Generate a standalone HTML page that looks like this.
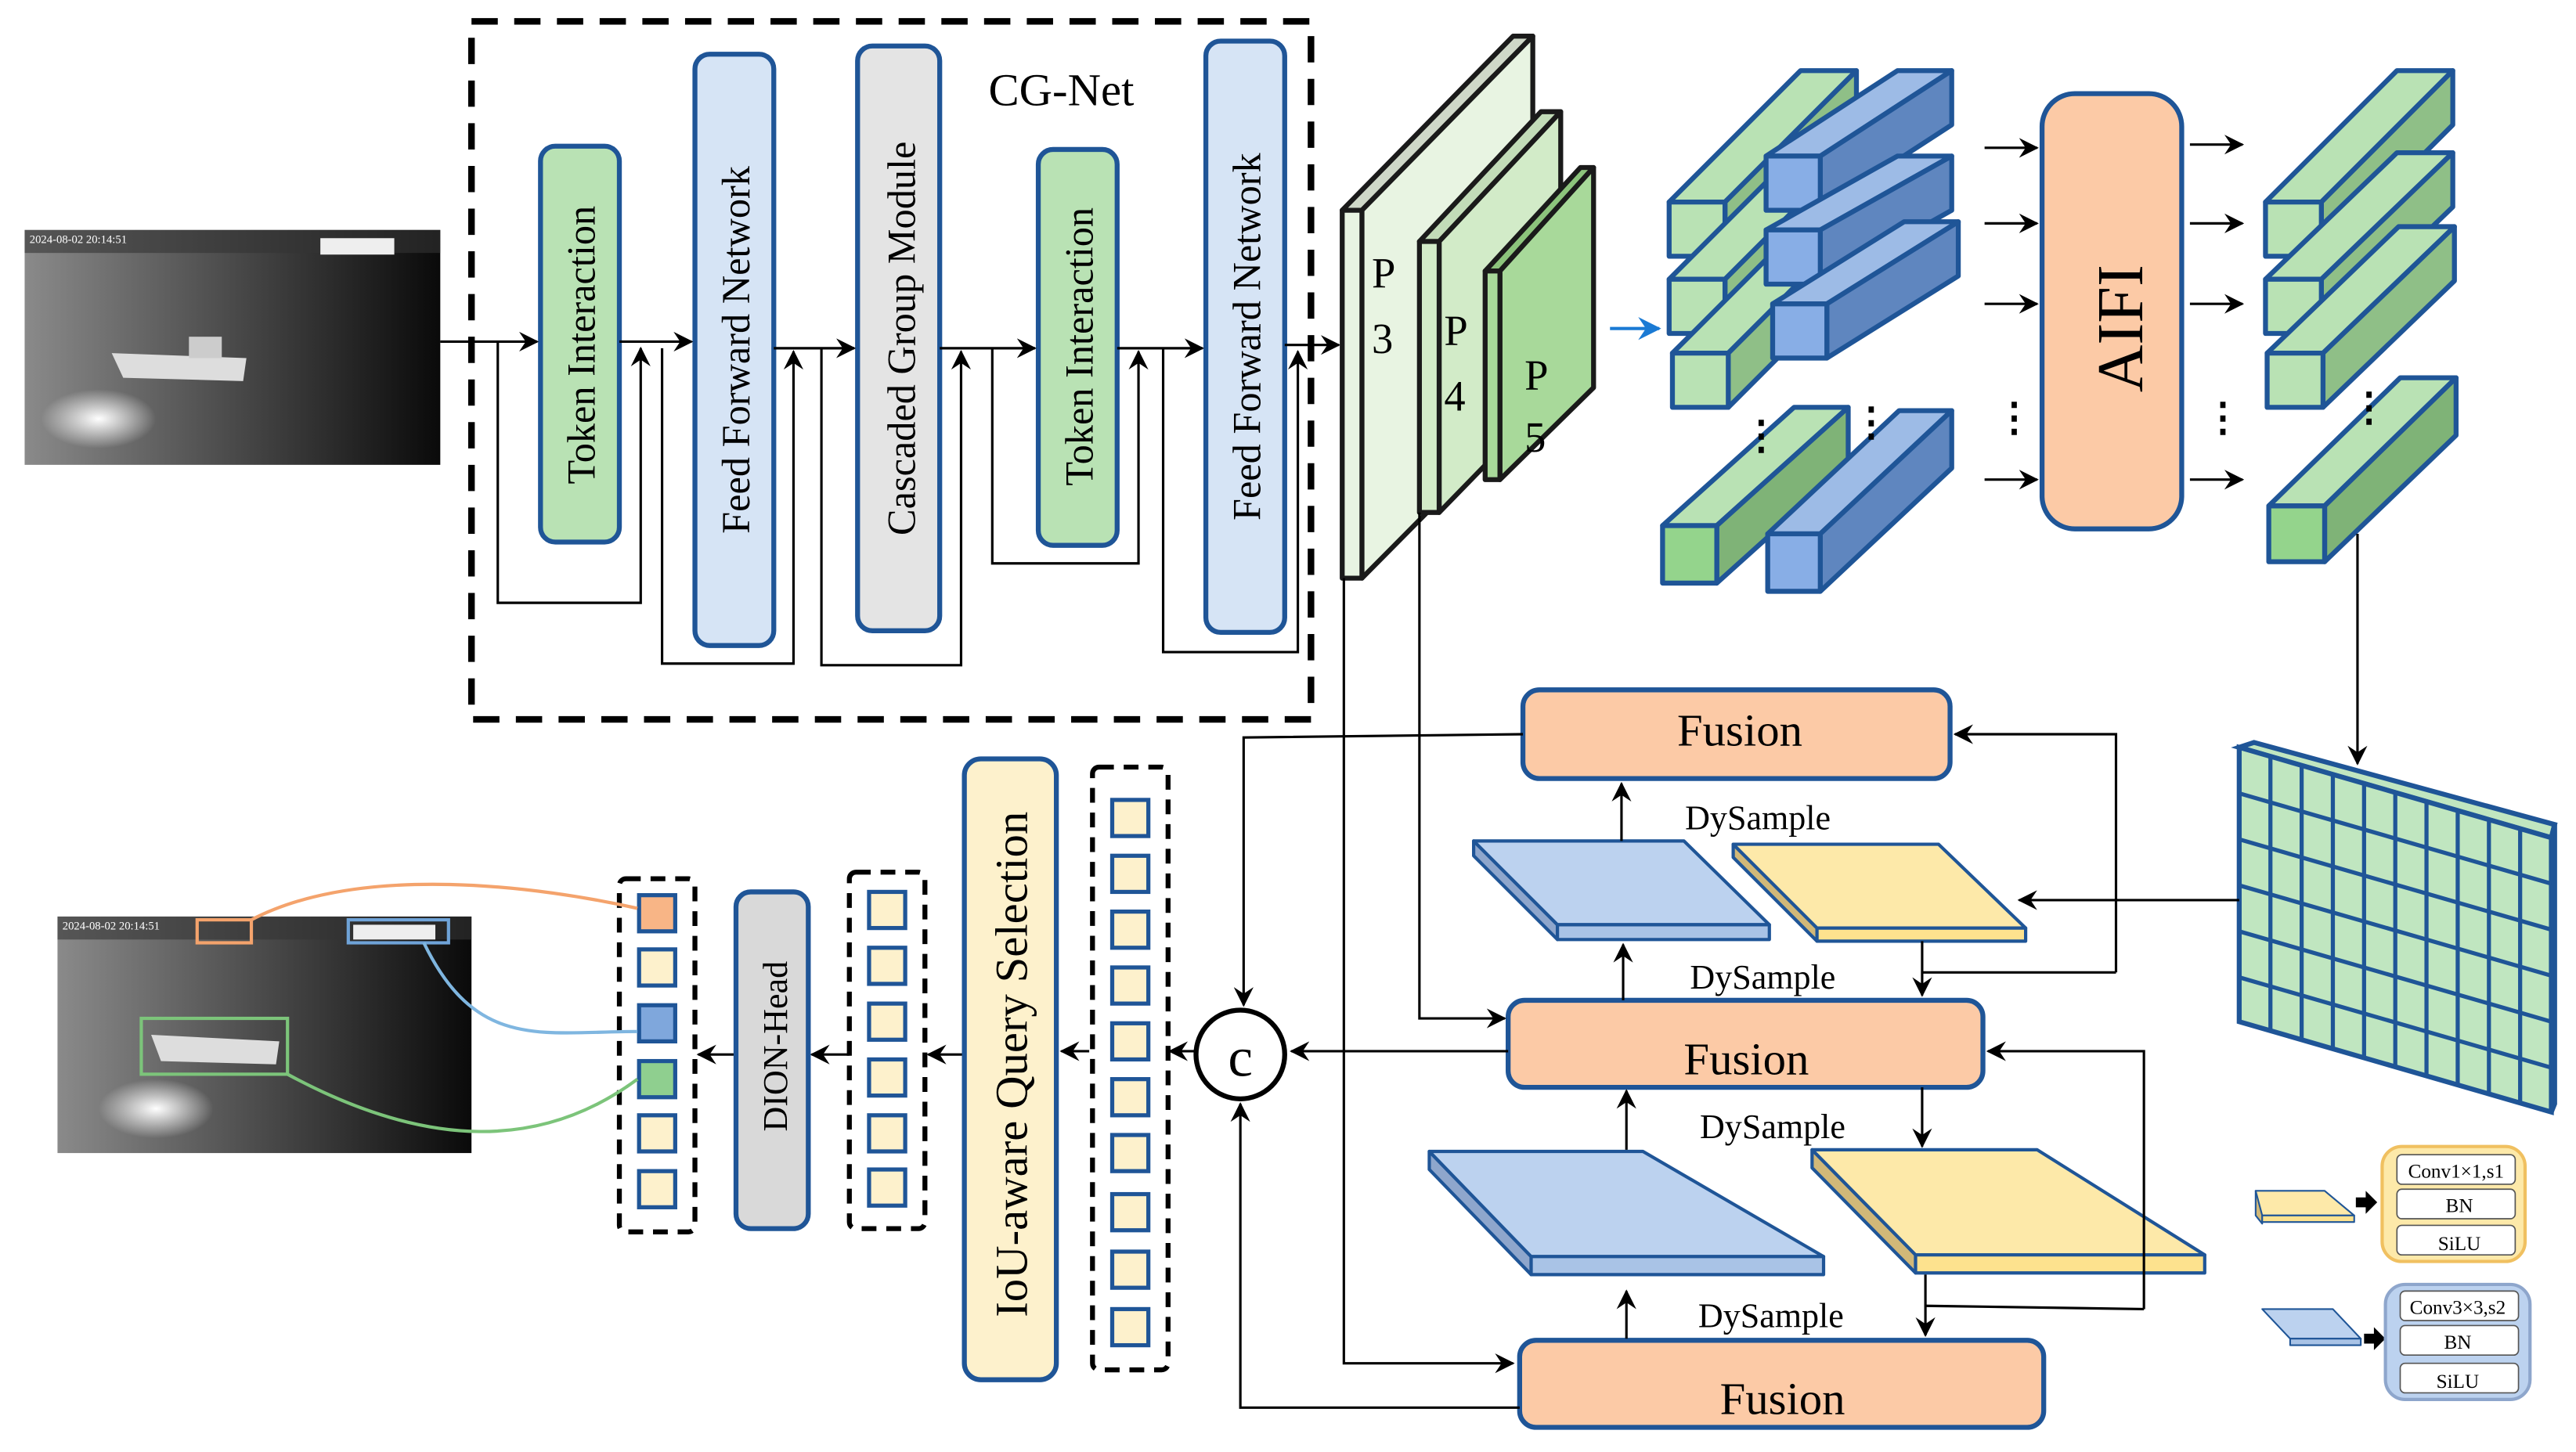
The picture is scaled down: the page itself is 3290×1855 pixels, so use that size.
<!DOCTYPE html>
<html><head><meta charset="utf-8"><style>
html,body{margin:0;padding:0;background:#fff;}
svg{display:block;}
text{font-family:"Liberation Serif",serif;fill:#000;}
</style></head><body>
<svg width="3290" height="1855" viewBox="0 0 1568 884" preserveAspectRatio="none" xmlns="http://www.w3.org/2000/svg">
<defs>
<marker id="a" viewBox="0 0 12 12" refX="11" refY="6" markerWidth="12" markerHeight="12" markerUnits="userSpaceOnUse" orient="auto"><path d="M0,0 L12,6 L0,12 L4,6 Z" fill="#000"/></marker>
<marker id="b" viewBox="0 0 12 12" refX="11" refY="6" markerWidth="14" markerHeight="14" markerUnits="userSpaceOnUse" orient="auto"><path d="M0,0 L12,6 L0,12 L4,6 Z" fill="#1a7ad4"/></marker>
<linearGradient id="ph" x1="0" y1="0" x2="1" y2="0"><stop offset="0" stop-color="#8a8a8a"/><stop offset="0.5" stop-color="#4a4a4a"/><stop offset="1" stop-color="#0a0a0a"/></linearGradient>
<radialGradient id="glow" cx="0.5" cy="0.5" r="0.5"><stop offset="0" stop-color="#fff"/><stop offset="1" stop-color="#fff" stop-opacity="0"/></radialGradient>
</defs>

<!-- photo 1 -->
<rect x="15" y="140" width="253" height="143" fill="url(#ph)"/>
<rect x="15" y="140" width="253" height="14" fill="#333" opacity="0.6"/>
<ellipse cx="60" cy="255" rx="35" ry="18" fill="url(#glow)"/>
<path d="M68,215 L150,218 L148,232 L75,230 Z" fill="#ddd"/>
<rect x="115" y="205" width="20" height="13" fill="#ccc"/>
<rect x="195" y="145" width="45" height="10" fill="#eee"/>
<text x="18" y="148" font-size="7" style="fill:#fff">2024-08-02 20:14:51</text>

<!-- CG-Net dashed box -->
<rect x="287" y="13" width="511" height="425" fill="none" stroke="#000" stroke-width="4" stroke-dasharray="16,10"/>
<text x="646" y="64" font-size="28" text-anchor="middle">CG-Net</text>

<g stroke="#1f5597" stroke-width="3">
<rect x="329" y="89" width="48" height="241" rx="9" fill="#b9e2b4"/>
<rect x="423" y="33" width="48" height="360" rx="9" fill="#d6e4f5"/>
<rect x="522" y="28" width="50" height="356" rx="9" fill="#e4e4e4"/>
<rect x="632" y="91" width="48" height="241" rx="9" fill="#b9e2b4"/>
<rect x="734" y="25" width="48" height="360" rx="9" fill="#d6e4f5"/>
</g>
<g font-size="24">
<text transform="translate(362,210) rotate(-90)" text-anchor="middle">Token Interaction</text>
<text transform="translate(456,213) rotate(-90)" text-anchor="middle">Feed Forward Network</text>
<text transform="translate(557,206) rotate(-90)" text-anchor="middle">Cascaded Group Module</text>
<text transform="translate(665,211) rotate(-90)" text-anchor="middle">Token Interaction</text>
<text transform="translate(767,205) rotate(-90)" text-anchor="middle">Feed Forward Network</text>
</g>

<g stroke="#000" stroke-width="1.5" fill="none">
<line x1="268" y1="208" x2="327" y2="208" marker-end="url(#a)"/>
<line x1="377" y1="208" x2="421" y2="208" marker-end="url(#a)"/>
<line x1="471" y1="212" x2="520" y2="212" marker-end="url(#a)"/>
<line x1="572" y1="212" x2="630" y2="212" marker-end="url(#a)"/>
<line x1="680" y1="212" x2="732" y2="212" marker-end="url(#a)"/>
<line x1="782" y1="210" x2="815" y2="210" marker-end="url(#a)"/>
<polyline points="303,208 303,367 390,367 390,212" marker-end="url(#a)"/>
<polyline points="403,212 403,404 483,404 483,214" marker-end="url(#a)"/>
<polyline points="500,212 500,405 585,405 585,214" marker-end="url(#a)"/>
<polyline points="604,212 604,343 693,343 693,214" marker-end="url(#a)"/>
<polyline points="708,212 708,397 790,397 790,214" marker-end="url(#a)"/>
</g>

<!-- P slabs -->
<g stroke="#1a1a1a" stroke-width="3" stroke-linejoin="round">
<polygon points="817,128 921,22 933,22 829,128" fill="#cfd8c8"/>
<polygon points="829,128 933,22 933,247 829,352" fill="#e8f4e2"/>
<rect x="817" y="128" width="12" height="224" fill="#e8f4e2"/>
<polygon points="864,147 938,68 950,68 876,147" fill="#c2dcb8"/>
<polygon points="876,147 950,68 950,236 876,312" fill="#d2ebc8"/>
<rect x="864" y="147" width="12" height="165" fill="#d2ebc8"/>
<polygon points="904,165 962,102 970,102 913,165" fill="#8cc47c"/>
<polygon points="913,165 970,102 970,236 913,292" fill="#a8d99a"/>
<rect x="904" y="165" width="9" height="127" fill="#a8d99a"/>
</g>
<g font-size="26"><text x="835" y="175">P</text><text x="835" y="215">3</text>
<text x="879" y="210">P</text><text x="879" y="250">4</text>
<text x="928" y="237">P</text><text x="928" y="275">5</text></g>
<line x1="980" y1="200" x2="1010" y2="200" stroke="#1a7ad4" stroke-width="2" marker-end="url(#b)"/>

<!-- bars -->
<g stroke="#1f5597" stroke-width="3" stroke-linejoin="round">
<g fill="#b9e2b4">
<polygon points="1016,123 1096,43 1130,43 1050,123"/><polygon points="1050,123 1130,43 1130,76 1050,156" fill="#8fbf87"/><rect x="1016" y="123" width="34" height="33"/>
<polygon points="1016,170 1096,90 1130,90 1050,170"/><polygon points="1050,170 1130,90 1130,123 1050,203" fill="#8fbf87"/><rect x="1016" y="170" width="34" height="33"/>
<polygon points="1018,215 1098,135 1132,135 1052,215"/><polygon points="1052,215 1132,135 1132,168 1052,248" fill="#8fbf87"/><rect x="1018" y="215" width="34" height="33"/>
</g>
<g fill="#9dbbe6">
<polygon points="1075,95 1155,43 1188,43 1108,95"/><polygon points="1108,95 1188,43 1188,76 1108,128" fill="#5f86bf"/><rect x="1075" y="95" width="33" height="33" fill="#88aee6"/>
<polygon points="1075,140 1155,95 1188,95 1108,140"/><polygon points="1108,140 1188,95 1188,128 1108,173" fill="#5f86bf"/><rect x="1075" y="140" width="33" height="33" fill="#88aee6"/>
<polygon points="1079,185 1159,135 1192,135 1112,185"/><polygon points="1112,185 1192,135 1192,168 1112,218" fill="#5f86bf"/><rect x="1079" y="185" width="33" height="33" fill="#88aee6"/>
</g>
<polygon points="1012,320 1092,248 1125,248 1045,320" fill="#b9e2b4"/><polygon points="1045,320 1125,248 1125,283 1045,355" fill="#7fb377"/><rect x="1012" y="320" width="33" height="35" fill="#94d48c"/>
<polygon points="1076,325 1156,250 1188,250 1108,325" fill="#9dbbe6"/><polygon points="1108,325 1188,250 1188,285 1108,360" fill="#5f86bf"/><rect x="1076" y="325" width="32" height="35" fill="#88aee6"/>
<g fill="#b9e2b4">
<polygon points="1379,123 1459,43 1493,43 1413,123"/><polygon points="1413,123 1493,43 1493,76 1413,156" fill="#8fbf87"/><rect x="1379" y="123" width="34" height="33"/>
<polygon points="1379,170 1459,93 1493,93 1413,170"/><polygon points="1413,170 1493,93 1493,126 1413,203" fill="#8fbf87"/><rect x="1379" y="170" width="34" height="33"/>
<polygon points="1380,215 1460,138 1494,138 1414,215"/><polygon points="1414,215 1494,138 1494,171 1414,248" fill="#8fbf87"/><rect x="1380" y="215" width="34" height="33"/>
<polygon points="1381,308 1461,230 1495,230 1415,308"/><polygon points="1415,308 1495,230 1495,265 1415,342" fill="#7fb377"/><rect x="1381" y="308" width="34" height="34" fill="#94d48c"/>
</g>
</g>
<g font-size="24" font-weight="bold"><text x="1060" y="273">⋮</text><text x="1127" y="265">⋮</text><text x="1214" y="262">⋮</text><text x="1341" y="262">⋮</text><text x="1430" y="256">⋮</text></g>

<rect x="1243" y="57" width="85" height="265" rx="20" fill="#fccaa6" stroke="#1f5597" stroke-width="3"/>
<text transform="translate(1304,200) rotate(-90)" font-size="40" text-anchor="middle">AIFI</text>
<g stroke="#000" stroke-width="1.5" marker-end="url(#a)">
<line x1="1208" y1="90" x2="1240" y2="90"/><line x1="1208" y1="136" x2="1240" y2="136"/><line x1="1208" y1="185" x2="1240" y2="185"/><line x1="1208" y1="292" x2="1240" y2="292"/>
<line x1="1333" y1="88" x2="1365" y2="88"/><line x1="1333" y1="136" x2="1365" y2="136"/><line x1="1333" y1="185" x2="1365" y2="185"/><line x1="1333" y1="292" x2="1365" y2="292"/>
<line x1="1435" y1="325" x2="1435" y2="465"/>
</g>

<!-- grid -->
<g stroke="#1f5597" stroke-width="3" fill="#c0e6c0">
<polygon points="1363,455 1372,452 1555,502 1553,510"/>
<polygon points="1553,510 1555,502 1555,672 1553,677"/>
<polygon points="1363,455 1553,510 1553,677 1363,622"/>
</g>
<g stroke="#1f5597" stroke-width="2.5">
<line x1="1382" y1="460.5" x2="1382" y2="627.5"/><line x1="1401" y1="466" x2="1401" y2="633"/><line x1="1420" y1="471.5" x2="1420" y2="638.5"/><line x1="1439" y1="477" x2="1439" y2="644"/><line x1="1458" y1="482.5" x2="1458" y2="649.5"/><line x1="1477" y1="488" x2="1477" y2="655"/><line x1="1496" y1="493.5" x2="1496" y2="660.5"/><line x1="1515" y1="499" x2="1515" y2="666"/><line x1="1534" y1="504.5" x2="1534" y2="671.5"/>
<line x1="1363" y1="483" x2="1553" y2="538"/><line x1="1363" y1="511" x2="1553" y2="566"/><line x1="1363" y1="539" x2="1553" y2="594"/><line x1="1363" y1="567" x2="1553" y2="622"/><line x1="1363" y1="595" x2="1553" y2="650"/>
</g>

<!-- fusions -->
<g stroke="#1f5597" stroke-width="3" fill="#fccaa6">
<rect x="927" y="420" width="260" height="54" rx="10"/>
<rect x="918" y="609" width="289" height="53" rx="10"/>
<rect x="925" y="816" width="319" height="53" rx="10"/>
</g>
<g font-size="28" text-anchor="middle"><text x="1059" y="454">Fusion</text><text x="1063" y="654">Fusion</text><text x="1085" y="861">Fusion</text></g>
<g font-size="21" text-anchor="middle"><text x="1070" y="505">DySample</text><text x="1073" y="602">DySample</text><text x="1079" y="693">DySample</text><text x="1078" y="808">DySample</text></g>

<!-- slabs -->
<g stroke="#1f5597" stroke-width="2" stroke-linejoin="round">
<polygon points="897,512 948,563 948,572 897,521" fill="#8ea6cc"/>
<polygon points="897,512 1025,512 1077,563 948,563" fill="#bcd2ef"/>
<rect x="948" y="563" width="129" height="9" fill="#a9c3e6"/>
<polygon points="1055,514 1106,565 1106,573 1055,522" fill="#d1b878"/>
<polygon points="1055,514 1180,514 1233,565 1106,565" fill="#fde9a9"/>
<rect x="1106" y="565" width="127" height="8" fill="#fde28e"/>
<polygon points="870,701 932,765 932,776 870,712" fill="#8ea6cc"/>
<polygon points="870,701 1000,701 1110,765 932,765" fill="#bcd2ef"/>
<rect x="932" y="765" width="178" height="11" fill="#a9c3e6"/>
<polygon points="1103,700 1166,764 1166,775 1103,711" fill="#d1b878"/>
<polygon points="1103,700 1240,700 1342,764 1166,764" fill="#fde9a9"/>
<rect x="1166" y="764" width="176" height="11" fill="#fde28e"/>
</g>

<!-- legend -->
<g stroke-linejoin="round">
<polygon points="1373,725 1377,730 1377,745 1373,740" fill="#d1b878" stroke="#1f5597"/>
<polygon points="1373,725 1415,725 1433,740 1377,740" fill="#fde9a9" stroke="#1f5597"/>
<rect x="1377" y="740" width="56" height="4" fill="#fde28e" stroke="#1f5597"/>
<polygon points="1377,797 1420,797 1437,815 1394,815" fill="#bcd2ef" stroke="#1f5597"/>
<rect x="1394" y="815" width="43" height="4" fill="#a9c3e6" stroke="#1f5597"/>
<path d="M1434,729 h6 v-4 l7,7 l-7,7 v-4 h-6 z" fill="#000"/>
<path d="M1439,812 h6 v-4 l7,7 l-7,7 v-4 h-6 z" fill="#000"/>
<rect x="1450" y="698" width="87" height="70" rx="12" fill="#fde9a9" stroke="#f0c060" stroke-width="2"/>
<rect x="1452" y="782" width="88" height="70" rx="12" fill="#bcd2ef" stroke="#8ea6cc" stroke-width="2"/>
<g fill="#fff" stroke="#555" stroke-width="0.8">
<rect x="1459" y="703" width="72" height="18" rx="3"/><rect x="1459" y="724" width="72" height="18" rx="3"/><rect x="1459" y="746" width="72" height="18" rx="3"/>
<rect x="1461" y="786" width="72" height="18" rx="3"/><rect x="1461" y="807" width="72" height="18" rx="3"/><rect x="1461" y="830" width="72" height="18" rx="3"/>
</g>
<g font-size="12" text-anchor="middle"><text x="1495" y="717">Conv1×1,s1</text><text x="1497" y="738">BN</text><text x="1497" y="761">SiLU</text>
<text x="1496" y="800">Conv3×3,s2</text><text x="1496" y="821">BN</text><text x="1496" y="845">SiLU</text></g>
</g>

<!-- connectors lower -->
<g stroke="#000" stroke-width="1.5" fill="none">
<polyline points="818,352 818,830 921,830" marker-end="url(#a)"/>
<polyline points="864,312 864,620 916,620" marker-end="url(#a)"/>
<polyline points="927,447 757,449 757,612" marker-end="url(#a)"/>
<line x1="918" y1="640" x2="786" y2="640" marker-end="url(#a)"/>
<polyline points="925,857 755,857 755,672" marker-end="url(#a)"/>
<line x1="1363" y1="548" x2="1229" y2="548" marker-end="url(#a)"/>
<polyline points="1288,592 1288,447 1190,447" marker-end="url(#a)"/>
<polyline points="1288,592 1170,592"/>
<line x1="1170" y1="573" x2="1170" y2="606" marker-end="url(#a)"/>
<line x1="987" y1="512" x2="987" y2="477" marker-end="url(#a)"/>
<line x1="988" y1="609" x2="988" y2="575" marker-end="url(#a)"/>
<polyline points="1305,797 1305,640 1210,640" marker-end="url(#a)"/>
<polyline points="1305,797 1172,795"/>
<line x1="1172" y1="776" x2="1172" y2="813" marker-end="url(#a)"/>
<line x1="1170" y1="662" x2="1170" y2="698" marker-end="url(#a)"/>
<line x1="990" y1="700" x2="990" y2="664" marker-end="url(#a)"/>
<line x1="990" y1="815" x2="990" y2="786" marker-end="url(#a)"/>
<line x1="728" y1="640" x2="712" y2="640" marker-end="url(#a)"/>
<line x1="663" y1="640" x2="646" y2="640" marker-end="url(#a)"/>
<line x1="587" y1="642" x2="565" y2="642" marker-end="url(#a)"/>
<line x1="517" y1="642" x2="494" y2="642" marker-end="url(#a)"/>
<line x1="448" y1="642" x2="425" y2="642" marker-end="url(#a)"/>
</g>
<circle cx="755" cy="642" r="27" fill="#fff" stroke="#000" stroke-width="3"/>
<text x="755" y="655" font-size="34" text-anchor="middle">c</text>

<!-- columns -->
<g fill="none" stroke="#000" stroke-width="3" stroke-dasharray="9,6">
<rect x="665" y="467" width="46" height="367" rx="4"/>
<rect x="517" y="531" width="46" height="217" rx="4"/>
<rect x="377" y="535" width="46" height="215" rx="4"/>
</g>
<g fill="#fdf1cc" stroke="#1f5597" stroke-width="2.5">
<rect x="677" y="487" width="22" height="22"/><rect x="677" y="521" width="22" height="22"/><rect x="677" y="555" width="22" height="22"/><rect x="677" y="589" width="22" height="22"/><rect x="677" y="623" width="22" height="22"/><rect x="677" y="657" width="22" height="22"/><rect x="677" y="691" width="22" height="22"/><rect x="677" y="727" width="22" height="22"/><rect x="677" y="762" width="22" height="22"/><rect x="677" y="797" width="22" height="22"/>
<rect x="529" y="543" width="22" height="22"/><rect x="529" y="577" width="22" height="22"/><rect x="529" y="611" width="22" height="22"/><rect x="529" y="645" width="22" height="22"/><rect x="529" y="679" width="22" height="22"/><rect x="529" y="712" width="22" height="22"/>
<rect x="389" y="545" width="22" height="22" fill="#f8b586"/><rect x="389" y="578" width="22" height="22" fill="#fdf1cc"/><rect x="389" y="612" width="22" height="22" fill="#7fa7dc"/><rect x="389" y="646" width="22" height="22" fill="#8fcf8f"/><rect x="389" y="679" width="22" height="22" fill="#fdf1cc"/><rect x="389" y="713" width="22" height="22" fill="#fdf1cc"/>
</g>
<rect x="587" y="462" width="56" height="378" rx="10" fill="#fdf1cc" stroke="#1f5597" stroke-width="3"/>
<text transform="translate(625,648) rotate(-90)" font-size="28" text-anchor="middle">IoU-aware Query Selection</text>
<rect x="448" y="543" width="44" height="205" rx="9" fill="#d9d9d9" stroke="#1f5597" stroke-width="3"/>
<text transform="translate(479,637) rotate(-90)" font-size="21" text-anchor="middle">DION-Head</text>

<!-- photo 2 -->
<rect x="35" y="558" width="252" height="144" fill="url(#ph)"/>
<rect x="35" y="558" width="252" height="14" fill="#333" opacity="0.6"/>
<ellipse cx="95" cy="675" rx="35" ry="18" fill="url(#glow)"/>
<path d="M92,630 L170,634 L168,648 L98,646 Z" fill="#ddd"/>
<rect x="215" y="563" width="50" height="9" fill="#eee"/>
<text x="38" y="566" font-size="7" style="fill:#fff">2024-08-02 20:14:51</text>
<g fill="none" stroke-width="2">
<rect x="120" y="560" width="33" height="14" stroke="#f4a36c"/>
<rect x="212" y="560" width="61" height="14" stroke="#6fa3d8"/>
<rect x="86" y="620" width="89" height="34" stroke="#7cc47a"/>
<path d="M153,560 C220,525 330,540 388,553" stroke="#f4a36c"/>
<path d="M258,574 C290,640 330,628 388,628" stroke="#7fb6e0"/>
<path d="M175,654 C260,700 330,700 388,657" stroke="#7cc47a"/>
</g>
</svg>
</body></html>
